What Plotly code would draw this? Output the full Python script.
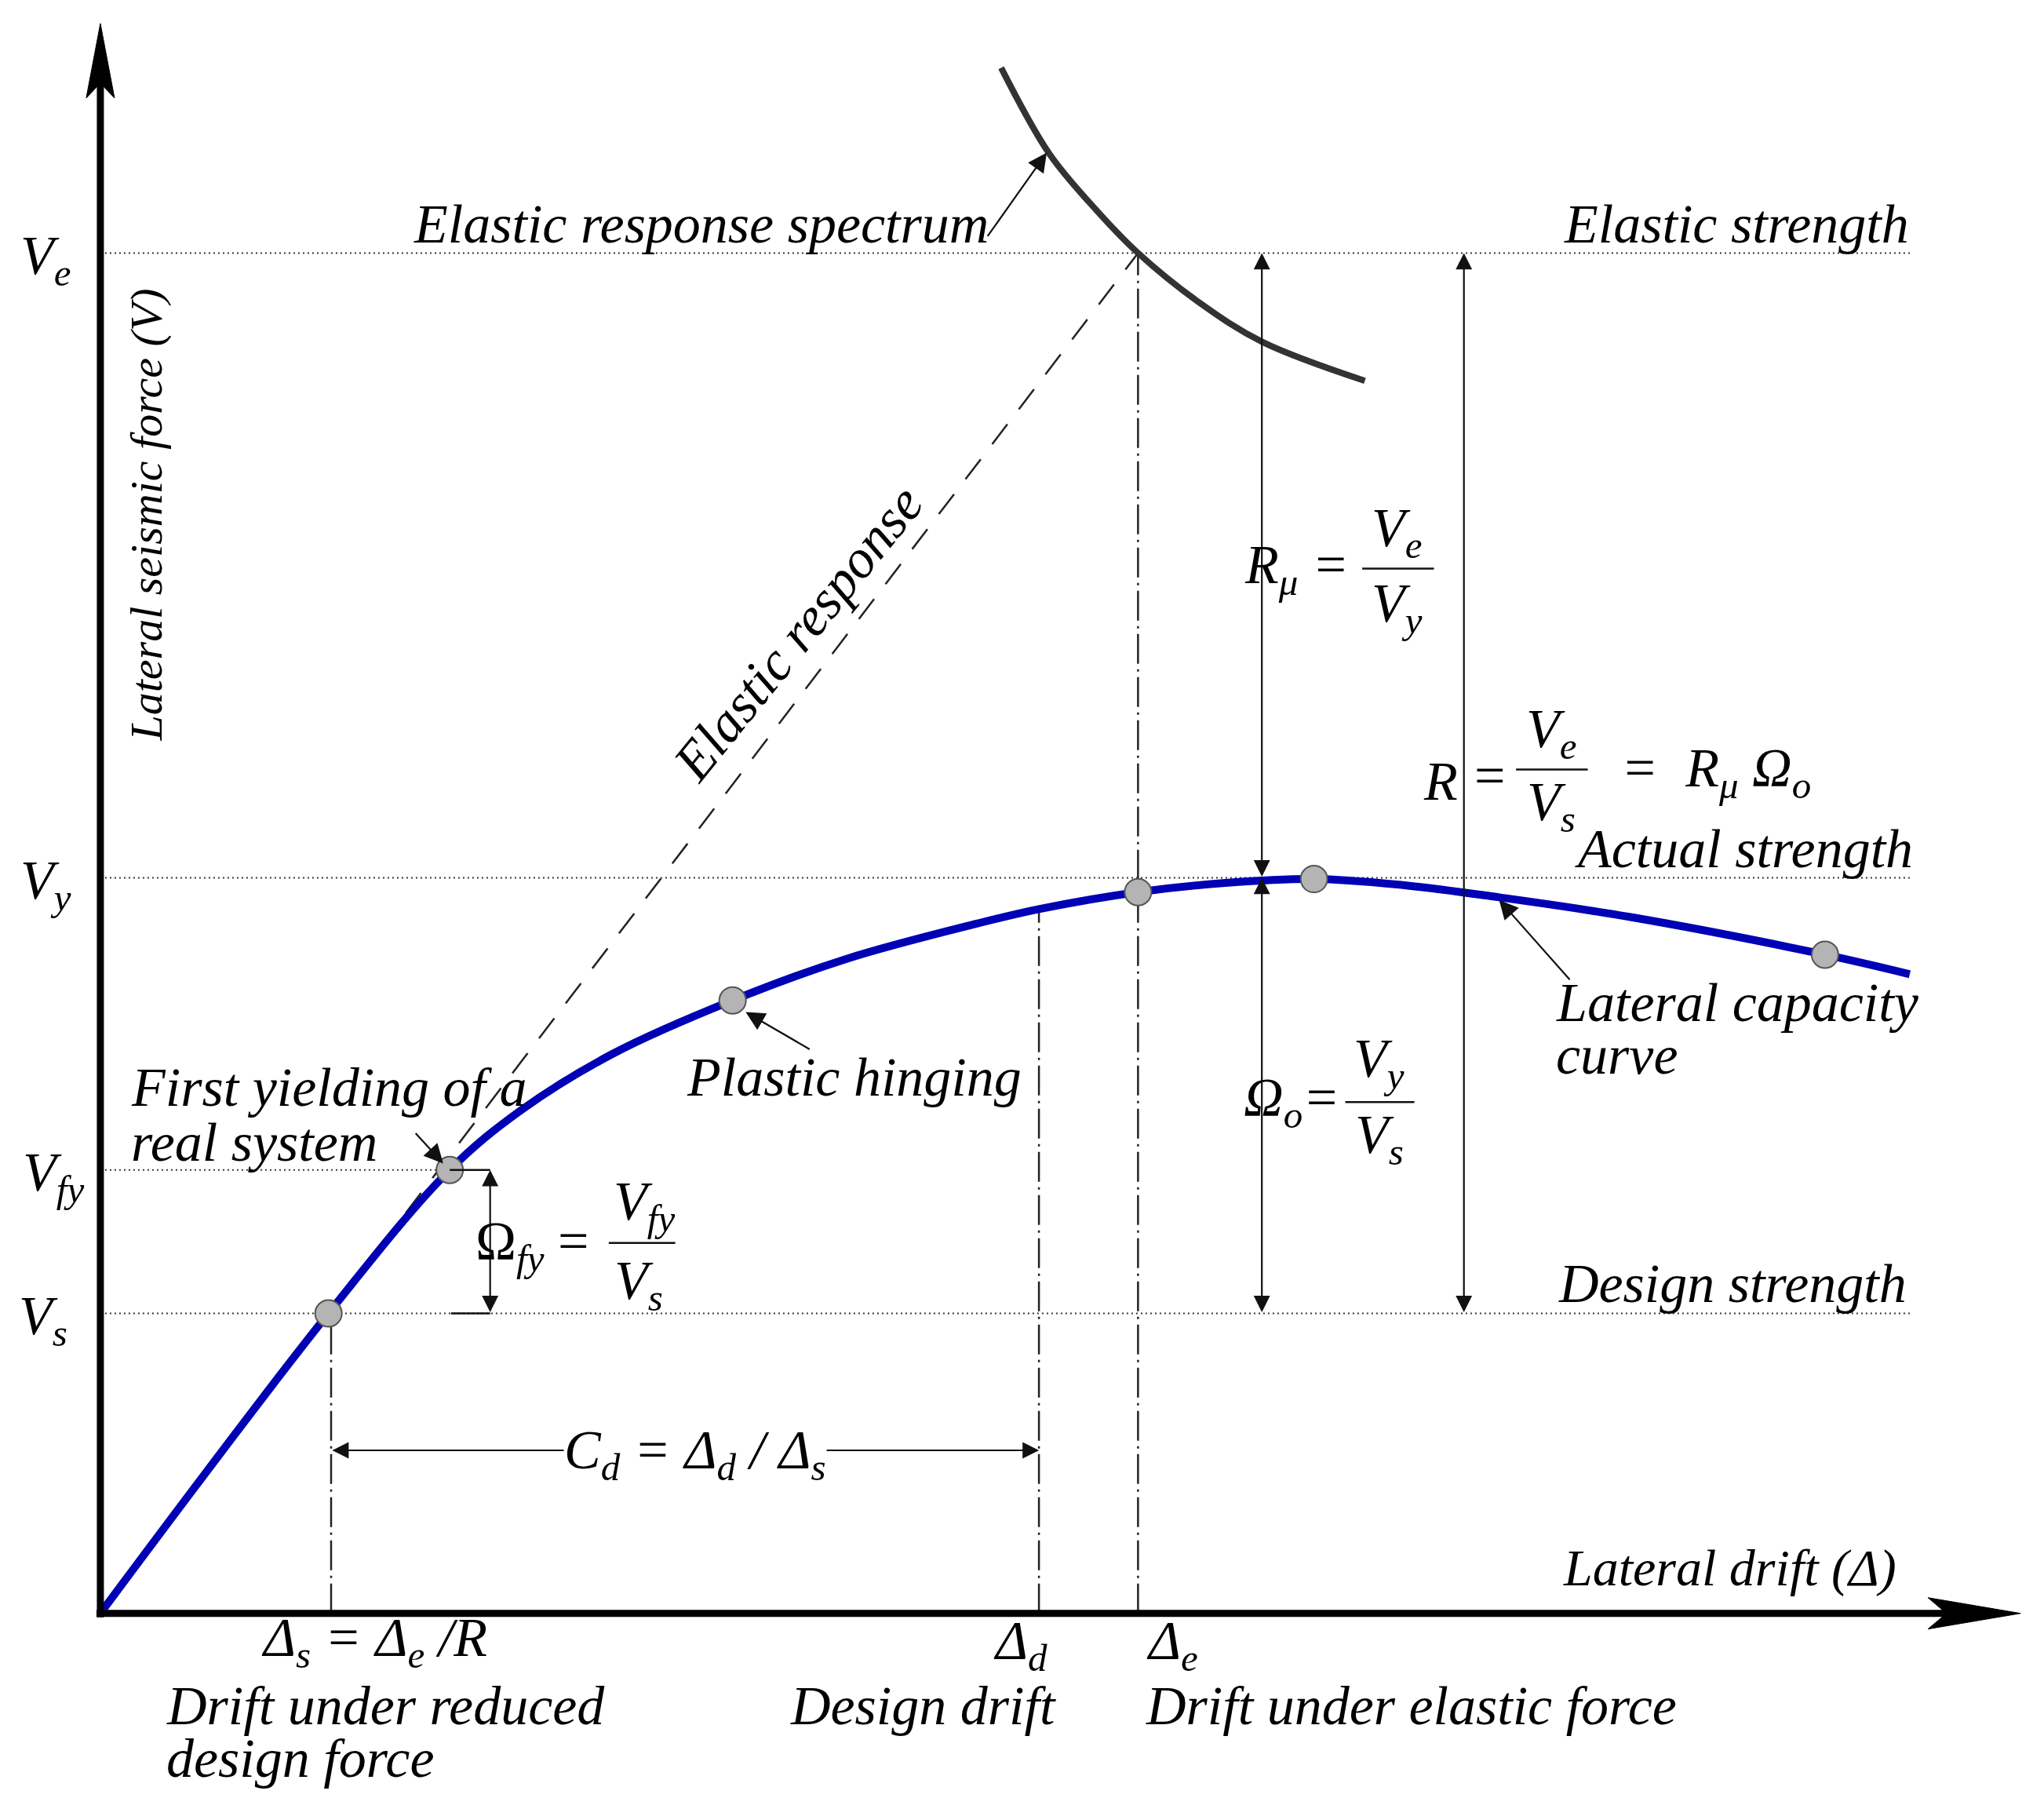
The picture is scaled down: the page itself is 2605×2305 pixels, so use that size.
import plotly.graph_objects as go

# ---------------- data (arbitrary units) ----------------
force_names = ["V<sub>s</sub>", "V<sub>fy</sub>", "V<sub>y</sub>", "V<sub>e</sub>"]
force_values = [2.30, 3.40, 5.64, 10.43]          # Vs, Vfy, Vy, Ve
drift_values = [1.77, 7.20, 7.96]                 # Δs, Δd, Δe

capacity_drift = [0.00, 1.75, 2.68, 3.23, 3.93, 4.85, 5.73, 6.73, 7.20,
                  7.96, 8.63, 9.31, 10.03, 10.73, 11.73, 13.23, 13.88]
capacity_force = [0.00, 2.30, 3.40, 3.86, 4.29, 4.70, 5.02, 5.29, 5.40,
                  5.53, 5.60, 5.63, 5.58, 5.49, 5.34, 5.05, 4.90]

hinge_drift = [1.75, 2.68, 4.85, 7.96, 9.31, 13.23]
hinge_force = [2.30, 3.40, 4.70, 5.53, 5.63, 5.05]

spectrum_drift = [6.91, 7.28, 7.63, 7.96, 8.43, 8.91, 9.70]
spectrum_force = [11.85, 11.19, 10.77, 10.43, 10.05, 9.75, 9.45]

VS, VFY, VY, VE = force_values
DS, DD, DE = drift_values

# ---------------- layout constants ----------------
W, H = 2605, 2305
XR = [-0.77, 14.91]
YR = [-1.50, 12.37]
PX = (XR[1] - XR[0]) / W      # data units per pixel (x)
PY = (YR[1] - YR[0]) / H      # data units per pixel (y)
FONT = "Liberation Serif"
FS = 70
FM = 70                        # math labels
X_END = 13.88                  # right end of the reference lines

fig = go.Figure()

def line(xs, ys, color="#222", width=2.5, dash="solid", shape="linear"):
    fig.add_trace(go.Scatter(x=xs, y=ys, mode="lines", hoverinfo="skip",
                             line=dict(color=color, width=width, dash=dash, shape=shape)))

# dotted strength levels
for v in (VS, VY, VE):
    line([0, X_END], [v, v], color="#333", width=2, dash="2px,4px")
line([0, hinge_drift[1]], [VFY, VFY], color="#333", width=2, dash="2px,4px")

# dash-dot verticals
DASHDOT = "38px,7px,3px,7px"
line([DS, DS], [0, VS], dash=DASHDOT)
line([DD, DD], [0, capacity_force[capacity_drift.index(DD)]], dash=DASHDOT)
line([DE, DE], [0, VE], dash=DASHDOT)

# elastic response (dashed)
y0 = 3.07
line([y0 * DE / VE, DE], [y0, VE], color="#222", width=2.5, dash="32px,24px")

# elastic response spectrum
fig.add_trace(go.Scatter(x=spectrum_drift, y=spectrum_force, mode="lines", hoverinfo="skip",
                         line=dict(color="#333333", width=8, shape="spline", smoothing=1.0)))

# capacity curve
fig.add_trace(go.Scatter(x=capacity_drift, y=capacity_force, mode="lines", hoverinfo="skip",
                         line=dict(color="#0000b4", width=10, shape="spline", smoothing=1.0)))

# hinge dots
fig.add_trace(go.Scatter(x=hinge_drift, y=hinge_force, mode="markers", hoverinfo="skip",
                         marker=dict(size=34, color="#b4b4b4", line=dict(color="#555", width=2))))

# Ωfy bracket
XB = 2.99
line([hinge_drift[1], XB], [VFY, VFY], color="#111", width=2.5)
line([2.69, XB], [VS, VS], color="#111", width=2.5)

# ---------------- axes (shapes) ----------------
AXW = 9
fig.add_shape(type="line", x0=0, y0=-0.03, x1=0, y1=11.9, line=dict(color="black", width=AXW))
fig.add_shape(type="line", x0=-0.03, y0=0, x1=14.2, y1=0, line=dict(color="black", width=AXW))
# y arrow head
tip, L, hw = 12.19, 95 * PY, 18 * PX
fig.add_shape(type="path", fillcolor="black", line=dict(color="black", width=1),
              path=f"M 0,{tip} L {-hw},{tip - L} L 0,{tip - 0.8 * L} L {hw},{tip - L} Z")
# x arrow head
tipx, Lx, hh = 14.73, 118 * PX, 20 * PY
fig.add_shape(type="path", fillcolor="black", line=dict(color="black", width=1),
              path=f"M {tipx},0 L {tipx - Lx},{hh} L {tipx - 0.8 * Lx},0 L {tipx - Lx},{-hh} Z")

# ---------------- helpers for text / arrows ----------------
def label(x, y, text, size=FS, xanchor="center", yanchor="middle", angle=0, bg=None, italic=True):
    fig.add_annotation(x=x, y=y, xref="x", yref="y", text=text, showarrow=False,
                       font=dict(family=FONT, size=size, color="black",
                                 style="italic" if italic else "normal"),
                       xanchor=xanchor, yanchor=yanchor, textangle=angle,
                       bgcolor=bg, borderpad=0)

def arrow(x_tail, y_tail, x_head, y_head, both=False, width=2.2, size=1.9, head=2):
    fig.add_annotation(x=x_head, y=y_head, ax=x_tail, ay=y_tail, xref="x", yref="y",
                       axref="x", ayref="y", text="", showarrow=True,
                       arrowhead=head, startarrowhead=head, arrowsize=size, startarrowsize=size,
                       arrowwidth=width, arrowcolor="#111",
                       arrowside="end+start" if both else "end",
                       standoff=0, startstandoff=0)

def frac_bar(x0, x1, y):
    fig.add_shape(type="line", x0=x0, x1=x1, y0=y, y1=y, line=dict(color="#111", width=2.5))

# dimension arrows
XRMU, XR_ = 8.91, 10.46
arrow(XRMU, VY, XRMU, VE, both=True)
arrow(XRMU, VS, XRMU, VY, both=True)
arrow(XR_, VS, XR_, VE, both=True)
arrow(XB, VS, XB, VFY, both=True)
YCD = 1.25
arrow(DS, YCD, DD, YCD, both=True)

# pointer arrows
arrow(6.80, 10.55, 7.26, 11.20, size=2.2)
arrow(5.45, 4.32, 4.95, 4.61, size=2.2)
arrow(2.41, 3.69, 2.63, 3.45, size=2.2)
arrow(11.28, 4.85, 10.73, 5.47, size=2.2)

# ---------------- labels ----------------
# force level labels on the y axis
for name, v, dx in zip(force_names, force_values, [-0.44, -0.36, -0.42, -0.42]):
    label(dx, v - 0.05, name, size=FM)

label(0.35, 8.42, "Lateral seismic force (V)", size=58, angle=-90)
label(12.50, 0.35, "Lateral drift (Δ)", size=66)

label(4.61, 10.65, "Elastic response spectrum")
label(13.88, 10.65, "Elastic strength", xanchor="right")
label(13.91, 5.86, "Actual strength", xanchor="right")
label(13.86, 2.53, "Design strength", xanchor="right")
label(5.78, 4.11, "Plastic hinging")
label(0.23, 4.03, "First yielding of a", xanchor="left")
label(0.23, 3.61, "real system", xanchor="left")
label(11.16, 4.68, "Lateral capacity", xanchor="left")
label(11.16, 4.28, "curve", xanchor="left")
label(5.35, 7.52, "Elastic response", angle=-51)

# below x axis
label(2.10, -0.22, "Δ<sub>s</sub> = Δ<sub>e</sub> /R", size=FM)
label(0.50, -0.71, "Drift under reduced", xanchor="left")
label(0.50, -1.11, "design force", xanchor="left")
label(7.06, -0.24, "Δ<sub>d</sub>", size=FM)
label(6.31, -0.71, "Design drift")
label(8.22, -0.24, "Δ<sub>e</sub>", size=FM)
label(8.01, -0.71, "Drift under elastic force", xanchor="left")

# Rμ = Ve / Vy
label(9.58, 8.01, "R<sub>μ</sub> =", size=FM, xanchor="right")
frac_bar(9.68, 10.23, 8.01)
label(9.95, 8.29, "V<sub>e</sub>", size=FM)
label(9.95, 7.71, "V<sub>y</sub>", size=FM)

# R = Ve / Vs = Rμ Ωo
label(10.28, 6.38, "R", size=FM)
label(10.66, 6.42, "=", size=FM, italic=False)
frac_bar(10.86, 11.41, 6.47)
label(11.13, 6.75, "V<sub>e</sub>", size=FM)
label(11.13, 6.19, "V<sub>s</sub>", size=FM)
label(11.66, 6.45, "=  R<sub>μ</sub> Ω<sub>o</sub>", size=FM, xanchor="left")

# Ωo = Vy / Vs
label(9.51, 3.92, "Ω<sub>o</sub>=", size=FM, xanchor="right")
frac_bar(9.55, 10.08, 3.92)
label(9.81, 4.22, "V<sub>y</sub>", size=FM)
label(9.81, 3.64, "V<sub>s</sub>", size=FM)

# Ωfy = Vfy / Vs
label(3.75, 2.82, "Ω<sub><i>fy</i></sub> =", size=FM, xanchor="right", italic=False)
frac_bar(3.90, 4.41, 2.84)
label(4.17, 3.13, "V<sub>fy</sub>", size=FM)
label(4.13, 2.52, "V<sub>s</sub>", size=FM)

# Cd = Δd / Δs
label(4.56, 1.22, "C<sub>d</sub> = Δ<sub>d</sub> / Δ<sub>s</sub>", size=FM, bg="white")

fig.update_layout(
    width=W, height=H, margin=dict(l=0, r=0, t=0, b=0),
    paper_bgcolor="white", plot_bgcolor="white", showlegend=False,
    xaxis=dict(range=XR, visible=False, fixedrange=True),
    yaxis=dict(range=YR, visible=False, fixedrange=True),
)

fig.write_html("out.html", config={"displayModeBar": False},
               post_script="document.body.style.margin='0';document.body.style.overflow='hidden';")
